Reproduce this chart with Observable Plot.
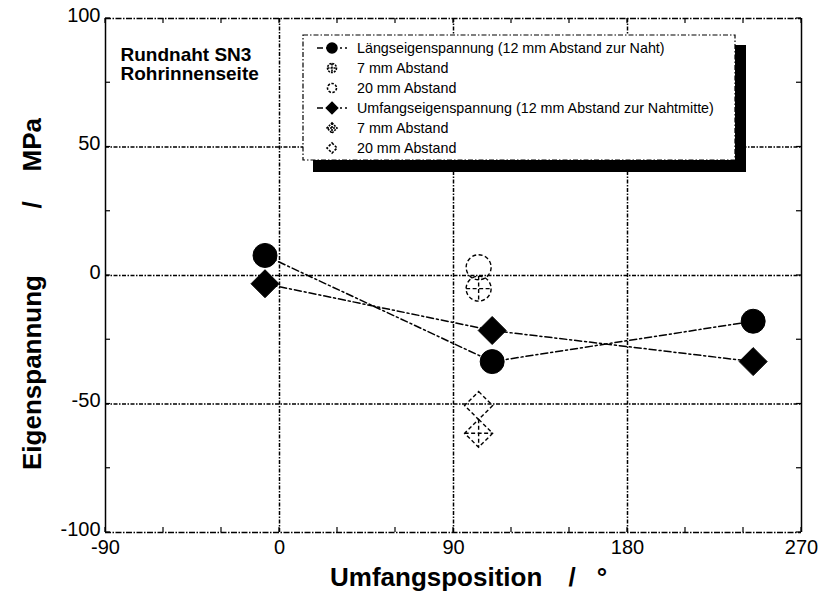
<!DOCTYPE html>
<html>
<head>
<meta charset="utf-8">
<script src="https://cdn.jsdelivr.net/npm/d3@7"></script>
<script src="https://cdn.jsdelivr.net/npm/@observablehq/plot@0.6"></script>
<style>
  body { margin: 0; background: #fff; }
  #chart svg text { white-space: pre; }
</style>
</head>
<body>
<div id="chart"></div>
<script>
// Umfangsposition (Grad) der Messstellen
const positions12 = [-7.5, 110, 245];
const positionSide = [103];

// Eigenspannungen in MPa
const laengs12 = [7.8, -33.5, -17.8];   // Längseigenspannung, 12 mm Abstand zur Naht
const laengs7 = [-5.1];                 // 7 mm Abstand
const laengs20 = [3.2];                 // 20 mm Abstand
const umfang12 = [-3.2, -21.4, -33.5];  // Umfangseigenspannung, 12 mm Abstand zur Nahtmitte
const umfang7 = [-61.4];                // 7 mm Abstand
const umfang20 = [-50.6];               // 20 mm Abstand

// Achsen
const xTicks = [-90, 0, 90, 180, 270];
const yTicks = [-100, -50, 0, 50, 100];
const xMinor = [-60, -30, 30, 60, 120, 150, 210, 240];
const yMinor = [-75, -25, 25, 75];
const gridX = [0, 90, 180];
const gridY = [-50, 0, 50];

const legendLabels = [
  "Längseigenspannung (12 mm Abstand zur Naht)",
  "7 mm Abstand",
  "20 mm Abstand",
  "Umfangseigenspannung (12 mm Abstand zur Nahtmitte)",
  "7 mm Abstand",
  "20 mm Abstand"
];
const titleLines = ["Rundnaht SN3", "Rohrinnenseite"];
const xTitle = ["Umfangsposition", "/", "°"];
const yTitle = ["Eigenspannung", "/", "MPa"];

const FONT = "'Liberation Sans', Arial, Helvetica, sans-serif";
const dashLine = "7,3,2,3";
const dashGrid = "4,1.5,1.5,1.5";
const dashOpen = "4,2.5";

// Symbole: Raute, Kreis mit Kreuz, Raute mit Kreuz
const rhomb = {
  draw(ctx, size) {
    const h = Math.sqrt(size / Math.PI) * 1.12;
    ctx.moveTo(0, -h); ctx.lineTo(h, 0); ctx.lineTo(0, h); ctx.lineTo(-h, 0); ctx.closePath();
  }
};
const ringCross = {
  draw(ctx, size) {
    const r = Math.sqrt(size / Math.PI);
    ctx.moveTo(r, 0); ctx.arc(0, 0, r, 0, 2 * Math.PI);
    ctx.moveTo(-r, 0); ctx.lineTo(r, 0);
    ctx.moveTo(0, -r); ctx.lineTo(0, r);
  }
};
const rhombCross = {
  draw(ctx, size) {
    const h = Math.sqrt(size / Math.PI) * 1.12;
    ctx.moveTo(0, -h); ctx.lineTo(h, 0); ctx.lineTo(0, h); ctx.lineTo(-h, 0); ctx.closePath();
    ctx.moveTo(-h, 0); ctx.lineTo(h, 0);
    ctx.moveTo(0, -h); ctx.lineTo(0, h);
  }
};

const rows = (xs, ys) => ys.map((y, i) => ({x: xs[i], y}));
const L12 = rows(positions12, laengs12);
const U12 = rows(positions12, umfang12);
const L7 = rows(positionSide, laengs7);
const L20 = rows(positionSide, laengs20);
const U7 = rows(positionSide, umfang7);
const U20 = rows(positionSide, umfang20);

const chart = Plot.plot({
  width: 823,
  height: 592,
  marginLeft: 105,
  marginRight: 22,
  marginTop: 18,
  marginBottom: 60,
  style: {fontFamily: FONT, fontSize: "20px", color: "black", background: "white", overflow: "visible"},
  x: {domain: [-90, 270], ticks: xTicks, tickSize: 0, tickPadding: 7, tickFormat: d => String(d), label: null},
  y: {domain: [-100, 100], ticks: [], label: null},
  marks: [
    Plot.axisY(yTicks, {tickSize: 0, tickPadding: 5, tickFormat: d => String(d), dy: -3, label: null}),
    Plot.ruleX(gridX, {stroke: "black", strokeWidth: 1.5, strokeDasharray: dashGrid}),
    Plot.ruleY(gridY, {stroke: "black", strokeWidth: 1.5, strokeDasharray: dashGrid}),
    Plot.ruleX([-90, 270], {stroke: "black", strokeWidth: 1.5}),
    Plot.ruleY([-100, 100], {stroke: "black", strokeWidth: 1.5, strokeDasharray: "6,1.5,1.5,1.5"}),
    Plot.text([titleLines.join("\n")], {
      frameAnchor: "top-left", dx: 15, dy: 29, lineAnchor: "top", textAnchor: "start",
      fontWeight: "bold", fontSize: 19, lineHeight: 1.0
    }),
    Plot.line(L12, {x: "x", y: "y", stroke: "black", strokeWidth: 1.5, strokeDasharray: dashLine}),
    Plot.line(U12, {x: "x", y: "y", stroke: "black", strokeWidth: 1.5, strokeDasharray: dashLine}),
    Plot.dot(L12, {x: "x", y: "y", r: 12, symbol: "circle", fill: "black", stroke: "black", strokeWidth: 1}),
    Plot.dot(U12, {x: "x", y: "y", r: 12.5, symbol: rhomb, fill: "black", stroke: "black", strokeWidth: 1}),
    Plot.dot(L20, {x: "x", y: "y", r: 12.5, symbol: "circle", fill: "none", stroke: "black", strokeWidth: 1.4, strokeDasharray: dashOpen}),
    Plot.dot(L7, {x: "x", y: "y", r: 12.5, symbol: ringCross, fill: "none", stroke: "black", strokeWidth: 1.4, strokeDasharray: dashOpen}),
    Plot.dot(U20, {x: "x", y: "y", r: 12.5, symbol: rhomb, fill: "none", stroke: "black", strokeWidth: 1.4, strokeDasharray: dashOpen}),
    Plot.dot(U7, {x: "x", y: "y", r: 12.5, symbol: rhombCross, fill: "none", stroke: "black", strokeWidth: 1.4, strokeDasharray: dashOpen})
  ]
});

document.getElementById("chart").appendChild(chart);

const svg = d3.select(chart);
const sx = chart.scale("x");
const sy = chart.scale("y");
const x0 = sx.apply(-90), x1 = sx.apply(270);
const y0 = sy.apply(-100), y1 = sy.apply(100);

// Kurze Teilstriche nach innen an allen vier Seiten
const tickG = svg.append("g").attr("stroke", "black").attr("stroke-width", 1.2);
for (const v of xMinor.concat(xTicks)) {
  const px = sx.apply(v);
  tickG.append("line").attr("x1", px).attr("x2", px).attr("y1", y0).attr("y2", y0 - 5);
  tickG.append("line").attr("x1", px).attr("x2", px).attr("y1", y1).attr("y2", y1 + 5);
}
for (const v of yMinor.concat(yTicks)) {
  const py = sy.apply(v);
  tickG.append("line").attr("y1", py).attr("y2", py).attr("x1", x0).attr("x2", x0 + 5);
  tickG.append("line").attr("y1", py).attr("y2", py).attr("x1", x1).attr("x2", x1 - 5);
}

// Achsentitel (Größe / Einheit, weit gesperrt)
const titleStyle = (t) => t.attr("font-family", FONT).attr("font-weight", "bold").attr("font-size", 26);
const xt = svg.append("g").attr("transform", "translate(0,586)");
titleStyle(xt.append("text").attr("x", 330).attr("text-anchor", "start").text(xTitle[0]));
titleStyle(xt.append("text").attr("x", 572).attr("text-anchor", "middle").text(xTitle[1]));
titleStyle(xt.append("text").attr("x", 602).attr("text-anchor", "middle").text(xTitle[2]));

const yt = svg.append("g").attr("transform", "translate(41,0) rotate(-90)");
titleStyle(yt.append("text").attr("x", -470).attr("text-anchor", "start").text(yTitle[0]));
titleStyle(yt.append("text").attr("x", -205).attr("text-anchor", "middle").text(yTitle[1]));
titleStyle(yt.append("text").attr("x", -118).attr("text-anchor", "end").text(yTitle[2]));

// Legende mit Schatten
const lg = svg.append("g").attr("transform", "translate(303,35)");
const lw = 432, lh = 125;
lg.append("rect").attr("x", 10).attr("y", 10).attr("width", lw + 1).attr("height", lh + 2).attr("fill", "black");
lg.append("rect").attr("x", 0).attr("y", 0).attr("width", lw).attr("height", lh)
  .attr("fill", "white").attr("stroke", "black").attr("stroke-width", 1.2).attr("stroke-dasharray", "5,2,1.5,2");

const legendSymbols = [
  {sym: d3.symbolCircle, r: 5, fill: "black", dash: null, line: true},
  {sym: ringCross, r: 4.5, fill: "none", dash: "2,1", line: false},
  {sym: d3.symbolCircle, r: 4.5, fill: "none", dash: "2.5,1.5", line: false},
  {sym: rhomb, r: 5, fill: "black", dash: null, line: true},
  {sym: rhombCross, r: 4.5, fill: "none", dash: "2,1", line: false},
  {sym: rhomb, r: 4.5, fill: "none", dash: "2.5,1.5", line: false}
];
legendLabels.forEach((label, i) => {
  const cy = 13 + i * 20;
  const s = legendSymbols[i];
  const row = lg.append("g").attr("transform", `translate(0,${cy})`);
  if (s.line) {
    row.append("line").attr("x1", 14).attr("x2", 44).attr("y1", 0).attr("y2", 0)
      .attr("stroke", "black").attr("stroke-width", 1.4).attr("stroke-dasharray", "6,3,2,3");
  }
  row.append("path")
    .attr("transform", "translate(29,0)")
    .attr("d", d3.symbol(s.sym, s.r * s.r * Math.PI)())
    .attr("fill", s.fill).attr("stroke", "black").attr("stroke-width", 1.6)
    .attr("stroke-dasharray", s.dash);
  row.append("text").attr("x", 54).attr("y", 5)
    .attr("text-anchor", "start")
    .attr("font-family", FONT).attr("font-size", 14.3).attr("fill", "black")
    .text(label);
});
</script>
</body>
</html>
